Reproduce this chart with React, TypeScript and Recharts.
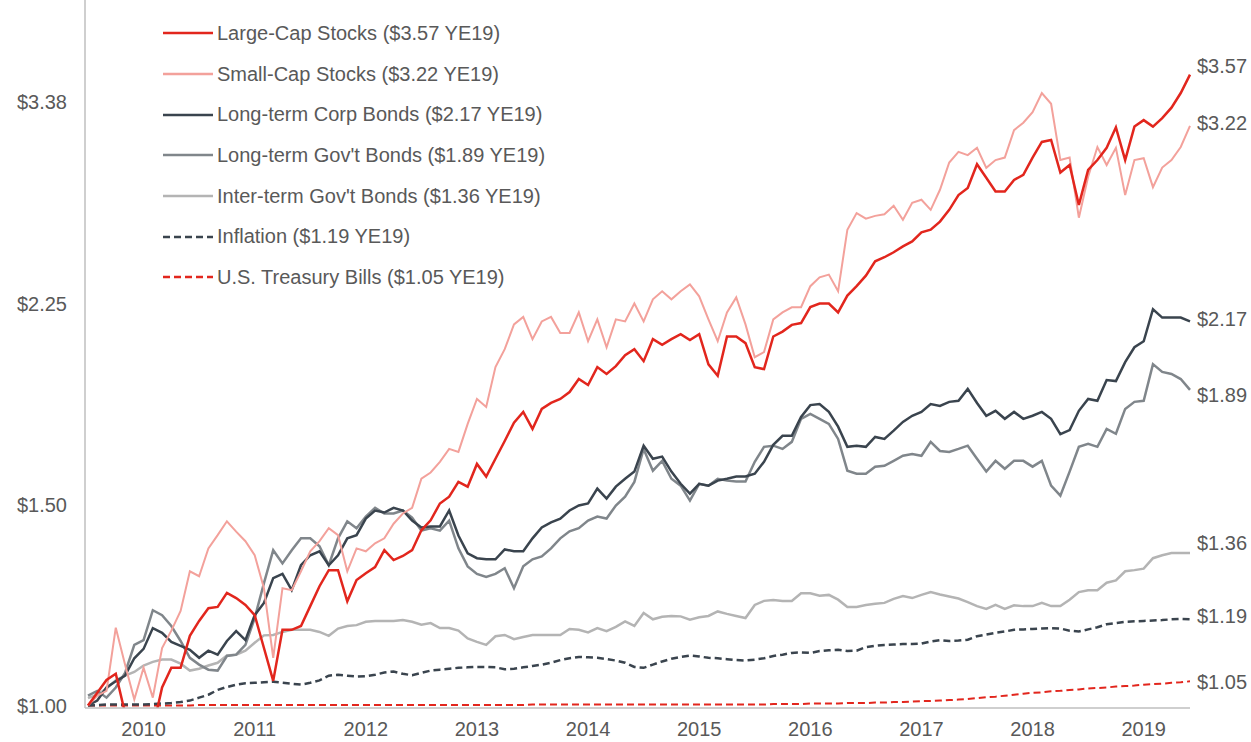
import { LineChart, Line, XAxis, YAxis, Legend } from 'recharts'

// growth of $1, monthly, Jan 2010 .. Dec 2019
const years = [2010, 2011, 2012, 2013, 2014, 2015, 2016, 2017, 2018, 2019]
const yTicks = [1.0, 1.5, 2.25, 3.38]

const largeCap = [
  1.0, 1.026, 1.053, 1.066, 0.985, 0.934, 0.985, 0.954, 1.037, 1.079, 1.079, 1.151,
  1.186, 1.217, 1.22, 1.255, 1.242, 1.225, 1.2, 1.123, 1.051, 1.165, 1.165, 1.174,
  1.222, 1.272, 1.314, 1.314, 1.234, 1.288, 1.306, 1.322, 1.368, 1.341, 1.352, 1.368,
  1.424, 1.453, 1.503, 1.524, 1.57, 1.555, 1.628, 1.587, 1.645, 1.705, 1.769, 1.808,
  1.747, 1.819, 1.841, 1.856, 1.882, 1.932, 1.909, 1.979, 1.952, 1.983, 2.027, 2.052,
  2.003, 2.094, 2.07, 2.094, 2.115, 2.09, 2.115, 1.99, 1.945, 2.105, 2.105, 2.077,
  1.979, 1.971, 2.105, 2.126, 2.155, 2.163, 2.234, 2.25, 2.25, 2.21, 2.286, 2.33,
  2.38, 2.45, 2.47, 2.495, 2.525, 2.55, 2.597, 2.611, 2.654, 2.718, 2.8, 2.84,
  2.98, 2.9, 2.82, 2.82, 2.887, 2.916, 3.02, 3.117, 3.129, 2.93, 2.975, 2.745,
  2.946, 3.005, 3.08, 3.21, 3.005, 3.215, 3.257, 3.215, 3.27, 3.34, 3.44, 3.57,
]

const smallCap = [
  1.0, 1.02, 1.03, 1.17, 1.086, 1.012, 1.079, 1.016, 1.123, 1.163, 1.21, 1.311,
  1.298, 1.373, 1.41, 1.45, 1.42, 1.393, 1.354, 1.267, 1.101, 1.267, 1.262, 1.311,
  1.365, 1.393, 1.43, 1.41, 1.311, 1.373, 1.365, 1.387, 1.401, 1.443, 1.473, 1.49,
  1.58, 1.6, 1.635, 1.678, 1.668, 1.765, 1.856, 1.826, 1.979, 2.052, 2.157, 2.19,
  2.094, 2.17, 2.19, 2.12, 2.12, 2.21, 2.085, 2.179, 2.06, 2.179, 2.17, 2.25,
  2.17, 2.269, 2.306, 2.269, 2.306, 2.338, 2.283, 2.179, 2.085, 2.21, 2.278, 2.157,
  2.019, 2.04, 2.179, 2.21, 2.233, 2.233, 2.33, 2.372, 2.385, 2.306, 2.611, 2.7,
  2.67, 2.685, 2.694, 2.74, 2.664, 2.757, 2.774, 2.718, 2.83, 2.99, 3.055, 3.035,
  3.08, 2.958, 3.005, 3.02, 3.192, 3.24, 3.31, 3.44, 3.366, 3.005, 3.02, 2.675,
  2.905, 3.085, 2.975, 3.08, 2.8, 3.005, 3.016, 2.845, 2.96, 3.005, 3.085, 3.22,
]

const corpBonds = [
  1.0, 1.01, 1.037, 1.05, 1.062, 1.1, 1.121, 1.169, 1.158, 1.137, 1.128, 1.119,
  1.101, 1.117, 1.108, 1.139, 1.162, 1.141, 1.2, 1.23, 1.293, 1.304, 1.262, 1.327,
  1.354, 1.365, 1.327, 1.354, 1.401, 1.41, 1.458, 1.482, 1.476, 1.49, 1.482, 1.452,
  1.432, 1.435, 1.435, 1.482, 1.409, 1.359, 1.346, 1.343, 1.343, 1.37, 1.365, 1.365,
  1.401, 1.432, 1.447, 1.458, 1.482, 1.497, 1.503, 1.549, 1.518, 1.555, 1.58, 1.603,
  1.689, 1.645, 1.652, 1.603, 1.564, 1.533, 1.564, 1.558, 1.574, 1.58, 1.587, 1.587,
  1.596, 1.635, 1.692, 1.723, 1.723, 1.79, 1.833, 1.837, 1.808, 1.755, 1.685, 1.689,
  1.685, 1.719, 1.712, 1.741, 1.772, 1.794, 1.808, 1.837, 1.83, 1.845, 1.849, 1.894,
  1.841, 1.794, 1.812, 1.783, 1.808, 1.783, 1.794, 1.808, 1.783, 1.729, 1.743, 1.812,
  1.856, 1.849, 1.928, 1.924, 1.999, 2.06, 2.085, 2.224, 2.187, 2.187, 2.187, 2.17,
]

const govBonds = [
  1.02, 1.03, 1.016, 1.037, 1.068, 1.13, 1.141, 1.212, 1.2, 1.174, 1.139, 1.101,
  1.086, 1.075, 1.073, 1.105, 1.108, 1.13, 1.193, 1.28, 1.368, 1.332, 1.368, 1.401,
  1.401, 1.379, 1.327, 1.401, 1.45, 1.43, 1.464, 1.49, 1.473, 1.473, 1.482, 1.461,
  1.423, 1.43, 1.423, 1.452, 1.373, 1.324, 1.304, 1.296, 1.304, 1.319, 1.267, 1.324,
  1.343, 1.351, 1.373, 1.401, 1.421, 1.43, 1.452, 1.464, 1.458, 1.497, 1.524, 1.57,
  1.678, 1.606, 1.638, 1.58, 1.558, 1.512, 1.564, 1.558, 1.58, 1.574, 1.571, 1.571,
  1.635, 1.685, 1.689, 1.678, 1.702, 1.783, 1.801, 1.783, 1.765, 1.712, 1.606, 1.596,
  1.596, 1.619, 1.622, 1.638, 1.655, 1.661, 1.655, 1.702, 1.671, 1.668, 1.678, 1.689,
  1.645, 1.603, 1.638, 1.612, 1.638, 1.638, 1.619, 1.638, 1.558, 1.527, 1.603, 1.685,
  1.695, 1.685, 1.747, 1.73, 1.819, 1.845, 1.849, 1.991, 1.96, 1.952, 1.932, 1.89,
]

const interBonds = [
  1.015, 1.022, 1.035, 1.052, 1.062, 1.07, 1.084, 1.092, 1.097, 1.097, 1.088, 1.073,
  1.077, 1.084, 1.09, 1.106, 1.108, 1.117, 1.135, 1.152, 1.153, 1.16, 1.165, 1.165,
  1.165, 1.16, 1.151, 1.168, 1.174, 1.176, 1.184, 1.186, 1.186, 1.186, 1.188, 1.184,
  1.177, 1.181, 1.169, 1.169, 1.163, 1.145, 1.137, 1.13, 1.15, 1.153, 1.143, 1.148,
  1.153, 1.153, 1.153, 1.153, 1.167, 1.165, 1.159, 1.169, 1.162, 1.172, 1.185, 1.174,
  1.205, 1.19, 1.196, 1.198, 1.197, 1.189, 1.195, 1.198, 1.209, 1.203, 1.198, 1.193,
  1.225, 1.235, 1.237, 1.235, 1.235, 1.254, 1.254, 1.248, 1.25, 1.238, 1.22, 1.22,
  1.225, 1.228, 1.23, 1.24, 1.247, 1.242, 1.25, 1.257, 1.251, 1.246, 1.241, 1.232,
  1.222, 1.215, 1.225, 1.215, 1.224, 1.222, 1.222, 1.23, 1.222, 1.222, 1.238, 1.257,
  1.262, 1.262, 1.281, 1.287, 1.311, 1.314, 1.318, 1.346, 1.354, 1.36, 1.36, 1.36,
]

const inflation = [
  1.0, 1.001, 1.002, 1.002, 1.002, 1.002, 1.002, 1.003, 1.004, 1.005, 1.007, 1.01,
  1.016, 1.022, 1.032, 1.038, 1.043, 1.046, 1.047, 1.048, 1.049, 1.047, 1.045, 1.043,
  1.047, 1.052, 1.062, 1.064, 1.062, 1.06, 1.061, 1.064, 1.069, 1.071, 1.066, 1.063,
  1.068, 1.073, 1.075, 1.077, 1.079, 1.08, 1.081, 1.081, 1.08, 1.076, 1.077, 1.08,
  1.083, 1.086, 1.09, 1.096, 1.1, 1.103, 1.102, 1.101, 1.098, 1.095, 1.09, 1.081,
  1.079, 1.086, 1.093, 1.099, 1.103, 1.106, 1.104, 1.101, 1.1, 1.098, 1.096, 1.095,
  1.097, 1.1, 1.105, 1.108, 1.112, 1.113, 1.112, 1.116, 1.118, 1.119, 1.116, 1.117,
  1.125, 1.128, 1.13, 1.131, 1.132, 1.132, 1.133, 1.138, 1.141, 1.139, 1.14, 1.142,
  1.15, 1.154, 1.158, 1.161, 1.165, 1.166, 1.167, 1.168, 1.169, 1.168, 1.163, 1.161,
  1.166, 1.171, 1.178, 1.181, 1.184, 1.185, 1.186, 1.187, 1.188, 1.19, 1.191, 1.19,
]

const tBills = [
  1.0, 1.0, 1.0, 1.0, 1.0, 1.0, 1.0, 1.0, 1.0, 1.0, 1.0, 1.0,
  1.001, 1.001, 1.001, 1.001, 1.001, 1.001, 1.001, 1.001, 1.001, 1.001, 1.001, 1.001,
  1.001, 1.001, 1.001, 1.001, 1.001, 1.001, 1.001, 1.001, 1.001, 1.001, 1.001, 1.001,
  1.001, 1.001, 1.001, 1.001, 1.001, 1.001, 1.001, 1.001, 1.001, 1.001, 1.001, 1.001,
  1.002, 1.002, 1.002, 1.002, 1.002, 1.002, 1.002, 1.002, 1.002, 1.002, 1.002, 1.002,
  1.002, 1.002, 1.002, 1.002, 1.002, 1.002, 1.002, 1.002, 1.002, 1.002, 1.002, 1.002,
  1.002, 1.002, 1.003, 1.003, 1.003, 1.003, 1.004, 1.004, 1.004, 1.004, 1.005, 1.005,
  1.005, 1.006, 1.006, 1.007, 1.007, 1.008, 1.009, 1.009, 1.01, 1.011, 1.012, 1.013,
  1.015, 1.017, 1.018, 1.02, 1.022, 1.024, 1.026, 1.027, 1.029, 1.03, 1.032, 1.033,
  1.035, 1.036, 1.037, 1.039, 1.04, 1.041, 1.043, 1.044, 1.045, 1.047, 1.048, 1.05,
]

const FONT = '"Liberation Sans", Arial, sans-serif'
const TEXT = '#595959'
const AXIS = '#BFBFBF'

const series = [
  { key: 'large', name: 'Large-Cap Stocks', values: largeCap, color: '#E2261D', width: 2.5, dash: undefined, labelDy: -9 },
  { key: 'small', name: 'Small-Cap Stocks', values: smallCap, color: '#F3A19B', width: 2, dash: undefined, labelDy: -3 },
  { key: 'corp', name: 'Long-term Corp Bonds', values: corpBonds, color: '#3A444E', width: 2.5, dash: undefined, labelDy: -2 },
  { key: 'gov', name: "Long-term Gov't Bonds", values: govBonds, color: '#80868B', width: 2.5, dash: undefined, labelDy: 5 },
  { key: 'inter', name: "Inter-term Gov't Bonds", values: interBonds, color: '#B4B4B4', width: 2.5, dash: undefined, labelDy: -10 },
  { key: 'infl', name: 'Inflation', values: inflation, color: '#3A444E', width: 2.5, dash: '7 4', labelDy: -3 },
  { key: 'tbill', name: 'U.S. Treasury Bills', values: tBills, color: '#E2261D', width: 2, dash: '7 4', labelDy: 1 },
]

const rows = largeCap.map((_, i) => {
  const row: Record<string, number> = { i }
  series.forEach(s => { row[s.key] = s.values[i] })
  return row
})

const last = largeCap.length - 1
const yearTicks = years.map((_, k) => 6 + k * 12)
const fmt = (v: number) => `$${v.toFixed(2)}`

const endLabel = (values: number[], dy: number) => (props: any) => {
  if (props.index !== last) return null
  const x = props.x ?? props.viewBox?.x
  const y = props.y ?? props.viewBox?.y
  return (
    <text x={x + 7} y={y + dy} dy="0.35em" fill={TEXT} fontSize={20} fontFamily={FONT}>
      {fmt(values[last])}
    </text>
  )
}

function LegendBox() {
  return (
    <div style={{ fontFamily: FONT, fontSize: 20, color: TEXT }}>
      {series.map(s => (
        <div key={s.key} style={{ display: 'flex', alignItems: 'center', height: 40.7, whiteSpace: 'nowrap' }}>
          <svg width={50} height={6} style={{ marginRight: 4 }}>
            <line x1={0} x2={50} y1={3} y2={3} stroke={s.color} strokeWidth={2.5} strokeDasharray={s.dash} />
          </svg>
          <span>{`${s.name} (${fmt(s.values[last])} YE19)`}</span>
        </div>
      ))}
    </div>
  )
}

export default function App() {
  return (
    <div style={{ position: 'absolute', left: 0, top: 0, width: 1251, height: 742, background: '#fff' }}>
      <LineChart width={1251} height={742} data={rows} margin={{ top: 0, right: 61, bottom: 0, left: 0 }}>
        <XAxis
          type="number"
          dataKey="i"
          domain={[0, last]}
          ticks={yearTicks}
          interval={0}
          tickFormatter={(v: number) => String(years[(v - 6) / 12])}
          padding={{ left: 3, right: 0 }}
          height={34}
          axisLine={{ stroke: AXIS, strokeWidth: 1.5 }}
          tickLine={false}
          tickSize={6}
          tickMargin={8}
          tick={{ fill: TEXT, fontSize: 20, fontFamily: FONT }}
        />
        <YAxis
          scale="log"
          domain={[0.995, 4.15]}
          allowDataOverflow
          ticks={yTicks}
          interval={0}
          tickFormatter={fmt}
          width={85}
          axisLine={{ stroke: AXIS, strokeWidth: 1.5 }}
          tickLine={false}
          tickSize={8}
          tickMargin={10}
          tick={{ fill: TEXT, fontSize: 20, fontFamily: FONT }}
        />
        <Legend
          layout="vertical"
          align="center"
          verticalAlign="middle"
          content={() => <LegendBox />}
          wrapperStyle={{ left: 163, top: 13, width: 420 }}
        />
        {[...series].reverse().map(s => (
          <Line
            key={s.key}
            dataKey={s.key}
            name={s.name}
            stroke={s.color}
            strokeWidth={s.width}
            strokeDasharray={s.dash}
            dot={false}
            activeDot={false}
            label={endLabel(s.values, s.labelDy)}
            isAnimationActive={false}
          />
        ))}
      </LineChart>
    </div>
  )
}
